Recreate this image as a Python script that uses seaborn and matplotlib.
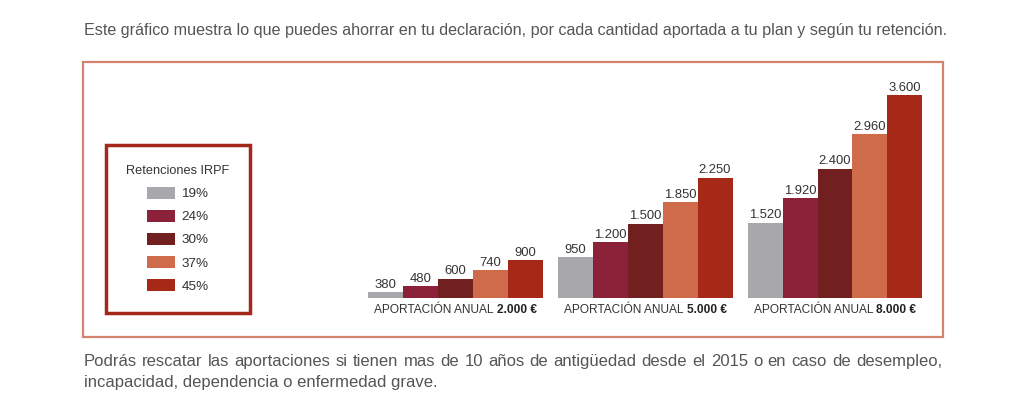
import matplotlib
matplotlib.use("Agg")
import matplotlib.pyplot as plt
from matplotlib.patches import Rectangle
from matplotlib.offsetbox import TextArea, HPacker, AnnotationBbox
import seaborn as sns
import pandas as pd

# data
aportaciones = ["2.000 €", "5.000 €", "8.000 €"]
retenciones = ["19%", "24%", "30%", "37%", "45%"]
ahorro_2000 = [380, 480, 600, 740, 900]
ahorro_5000 = [950, 1200, 1500, 1850, 2250]
ahorro_8000 = [1520, 1920, 2400, 2960, 3600]
colores = ["#a8a7ac", "#8c2239", "#72201f", "#cf6a4b", "#a52916"]

intro = ("Este gráfico muestra lo que puedes ahorrar en tu declaración, "
         "por cada cantidad aportada a tu plan y según tu retención.")
nota_1 = ("Podrás rescatar las aportaciones si tienen mas de 10 años de "
          "antigüedad desde el 2015 o en caso de desempleo,")
nota_2 = "incapacidad, dependencia o enfermedad grave."

W, H = 1024, 408


def fx(px):
    return px / W


def fy(py):
    return 1 - py / H


def justify(fig, text, x0, x1, y, **kw):
    words = text.split()
    r = fig.canvas.get_renderer()
    arts = [fig.text(0, fy(y), w, **kw) for w in words]
    widths = [a.get_window_extent(r).width for a in arts]
    gap = (x1 - x0 - sum(widths)) / (len(words) - 1)
    x = x0
    for a, w in zip(arts, widths):
        a.set_x(fx(x))
        x += w + gap


def fmt(v):
    return f"{v:,.0f}".replace(",", ".")


sns.set_style("white")
plt.rcParams["font.family"] = ["Liberation Sans", "DejaVu Sans"]

rows = []
for ap, vals in zip(aportaciones, [ahorro_2000, ahorro_5000, ahorro_8000]):
    for ret, v in zip(retenciones, vals):
        rows.append({"aportacion": ap, "retencion": ret, "ahorro": v})
df = pd.DataFrame(rows)

fig = plt.figure(figsize=(10.24, 4.08), dpi=100)

# outer frame
fig.add_artist(Rectangle((fx(83), fy(337)), (943 - 83) / W, (337 - 62) / H,
                         transform=fig.transFigure, fill=False,
                         edgecolor="#d4846c", linewidth=1.6))

fig.text(fx(84), fy(35), intro, fontsize=11.62, color="#555555", va="baseline")

px_per_unit = 0.0612
ax = fig.add_axes([fx(360.6), fy(298), 569.25 / W, 218 / H])
sns.barplot(data=df, x="aportacion", y="ahorro", hue="retencion",
            palette=colores, width=0.92, saturation=1, linewidth=0, ax=ax)
ax.set_xlim(-0.5, 2.5)
ax.set_ylim(287, 287 + 218 / px_per_unit)
ax.set_axis_off()

for cont in ax.containers:
    ax.bar_label(cont, labels=[fmt(v) for v in cont.datavalues],
                 padding=1, fontsize=9.4, color="#333333")

for i, ap in enumerate(aportaciones):
    pack = HPacker(children=[
        TextArea("APORTACIÓN ANUAL", textprops=dict(fontsize=8.6, color="#333333")),
        TextArea(ap, textprops=dict(fontsize=8.6, color="#222222", weight="bold")),
    ], sep=2.2, align="baseline", pad=0)
    ab = AnnotationBbox(pack, (i, 0), xycoords=ax.get_xaxis_transform(),
                        xybox=(0, -4.5), boxcoords="offset points",
                        box_alignment=(0.5, 1), frameon=False, pad=0,
                        annotation_clip=False)
    ax.add_artist(ab)

leg = ax.legend(title="Retenciones IRPF", loc="upper left",
                bbox_to_anchor=(fx(106), fy(145)), bbox_transform=fig.transFigure,
                frameon=True, fancybox=False, edgecolor="#a3281a", framealpha=1,
                borderpad=1.5, labelspacing=0.7, handlelength=2.1,
                handleheight=1.0, handletextpad=0.45, fontsize=9.7,
                title_fontsize=9.2, borderaxespad=0, labelcolor="#333333")
leg.get_frame().set_linewidth(2.5)
leg.get_title().set_color("#333333")

justify(fig, nota_1, 84, 942, 366, fontsize=12, color="#555555", va="baseline")
fig.text(fx(84), fy(387), nota_2, fontsize=12, color="#555555", va="baseline")

fig.savefig("out.png", dpi=100, facecolor="white")
